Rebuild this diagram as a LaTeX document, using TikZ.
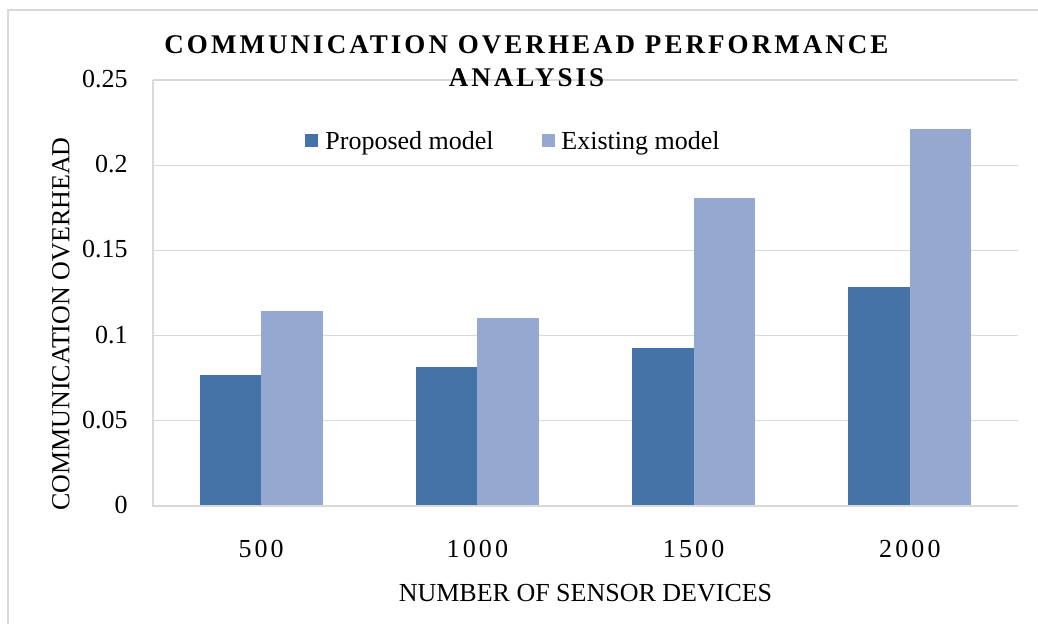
\documentclass[tikz,border=0pt]{standalone}
\usepackage{fontspec}
\setmainfont{Liberation Serif}
\newfontfamily\titlefont[LetterSpace=11.3]{Liberation Serif}
\newfontfamily\catfont[LetterSpace=12]{Liberation Serif}
\definecolor{proposedblue}{RGB}{70,115,167}
\definecolor{existingblue}{RGB}{149,169,208}
\definecolor{gridgray}{RGB}{217,217,217}
\tikzset{
  gridline/.style={draw=gridgray, line width=0.65pt},
  lbl/.style={font=\fontsize{13}{15}\selectfont, inner sep=0pt},
  catlbl/.style={font=\catfont\fontsize{13}{15}\selectfont, inner sep=0pt},
  titlelbl/.style={font=\titlefont\bfseries\fontsize{13.5}{16.5}\selectfont, inner sep=0pt, align=center},
  legmark/.style={minimum size=6.5pt, inner sep=0pt},
}
\begin{document}
\begin{tikzpicture}[x=0.5pt,y=0.5pt]
    \useasboundingbox (0,0) rectangle (1038,623);
    % frame round the chart
    \draw[gridgray, line width=1pt] (8,-10) -- (8,613) -- (1050,613);

    % grid and value labels
    \foreach \lab [count=\i from 0] in {0,0.05,0.1,0.15,0.2,0.25} {
        \draw[gridline] (153,{117+\i*85.2}) -- (1018,{117+\i*85.2});
        \node[lbl, anchor=east] (tick\i) at (128,{118+\i*85.2}) {\lab};
    }

    % bars
    \foreach \n/\p/\e [count=\i from 0] in {500/0.0769/0.1146, 1000/0.0814/0.1105, 1500/0.0925/0.1806, 2000/0.1283/0.2212} {
        \pgfmathsetmacro\cx{261.125+\i*216.25}
        \fill[proposedblue] (\cx-61.5,117) rectangle (\cx,{117+\p*1704});
        \fill[existingblue] (\cx,117) rectangle (\cx+61.5,{117+\e*1704});
        \node[catlbl] (cat\i) at (\cx,74.5) {\n};
    }
    \draw[gridline] (153,543) -- (153,117) -- (1018,117);

    % titles
    \node[titlelbl] (title) at (526.5,562) {COMMUNICATION OVERHEAD PERFORMANCE\\ANALYSIS};
    \node[lbl, rotate=90] (ytitle) at (61,299) {COMMUNICATION OVERHEAD};
    \node[lbl] (xtitle) at (585.5,30) {NUMBER OF SENSOR DEVICES};

    % legend
    \node[legmark, fill=proposedblue] (markprop) at (311.5,483) {};
    \node[lbl, anchor=base west] (legprop) at (325,474) {Proposed model};
    \node[legmark, fill=existingblue] (markexist) at (548.5,483) {};
    \node[lbl, anchor=base west] (legexist) at (561,474) {Existing model};
\end{tikzpicture}
\end{document}
